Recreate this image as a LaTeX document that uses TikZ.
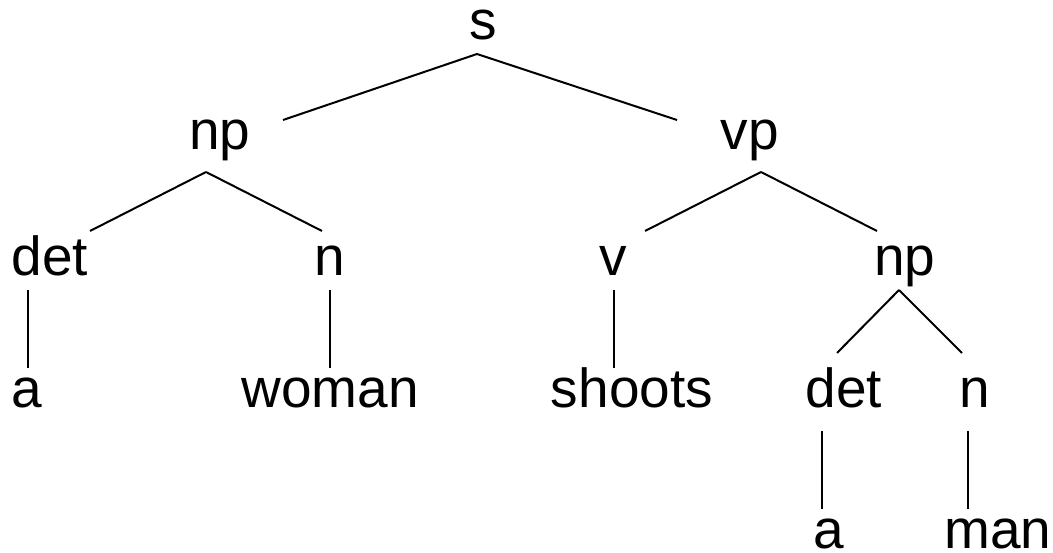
\documentclass[tikz,border=0pt]{standalone}
\usepackage{fontspec}
\setmainfont{Liberation Sans}

\begin{document}
\begin{tikzpicture}[x=1pt,y=-1pt,line width=2pt,
    word/.style={anchor=base,inner sep=0pt,font=\fontsize{55}{66}\selectfont}]
          \useasboundingbox (0,0) rectangle (1053,553);
          % categories and words, at their baselines
          \node[word] (s) at (483,40) {s};
          \node[word] (np1) at (220,150) {np};
          \node[word] (vp) at (750,150) {vp};
          \node[word] (det1) at (50,276) {det};
          \node[word] (n1) at (330,276) {n};
          \node[word] (v) at (613,276) {v};
          \node[word] (np2) at (905,276) {np};
          \node[word] (a1) at (27,407) {a};
          \node[word] (woman) at (330,407) {woman};
          \node[word] (shoots) at (632,407) {shoots};
          \node[word] (det2) at (844,407) {det};
          \node[word] (n2) at (975,407) {n};
          \node[word] (a2) at (829,548) {a};
          \node[word] (man) at (998,548) {man};
          % branches
          \draw ([shift={(-6,14)}]s.base) -- ([shift={(63,-30)}]np1.base);
          \draw ([shift={(-6,14)}]s.base) -- ([shift={(-73,-30)}]vp.base);
          \draw ([shift={(-14,22)}]np1.base) -- ([shift={(40,-45)}]det1.base);
          \draw ([shift={(-14,22)}]np1.base) -- ([shift={(-8,-45)}]n1.base);
          \draw ([shift={(11,22)}]vp.base) -- ([shift={(32,-45)}]v.base);
          \draw ([shift={(11,22)}]vp.base) -- ([shift={(-28,-45)}]np2.base);
          \draw ([shift={(-22,14)}]det1.base) -- ([shift={(1,-39)}]a1.base);
          \draw ([shift={(0,14)}]n1.base) -- ([shift={(0,-39)}]woman.base);
          \draw ([shift={(1,14)}]v.base) -- ([shift={(-18,-39)}]shoots.base);
          \draw ([shift={(-6,14)}]np2.base) -- ([shift={(-7,-54)}]det2.base);
          \draw ([shift={(-6,14)}]np2.base) -- ([shift={(-13,-54)}]n2.base);
          \draw ([shift={(-22,24)}]det2.base) -- ([shift={(-7,-39)}]a2.base);
          \draw ([shift={(-7,24)}]n2.base) -- ([shift={(-30,-39)}]man.base);
        \end{tikzpicture}
\end{document}
